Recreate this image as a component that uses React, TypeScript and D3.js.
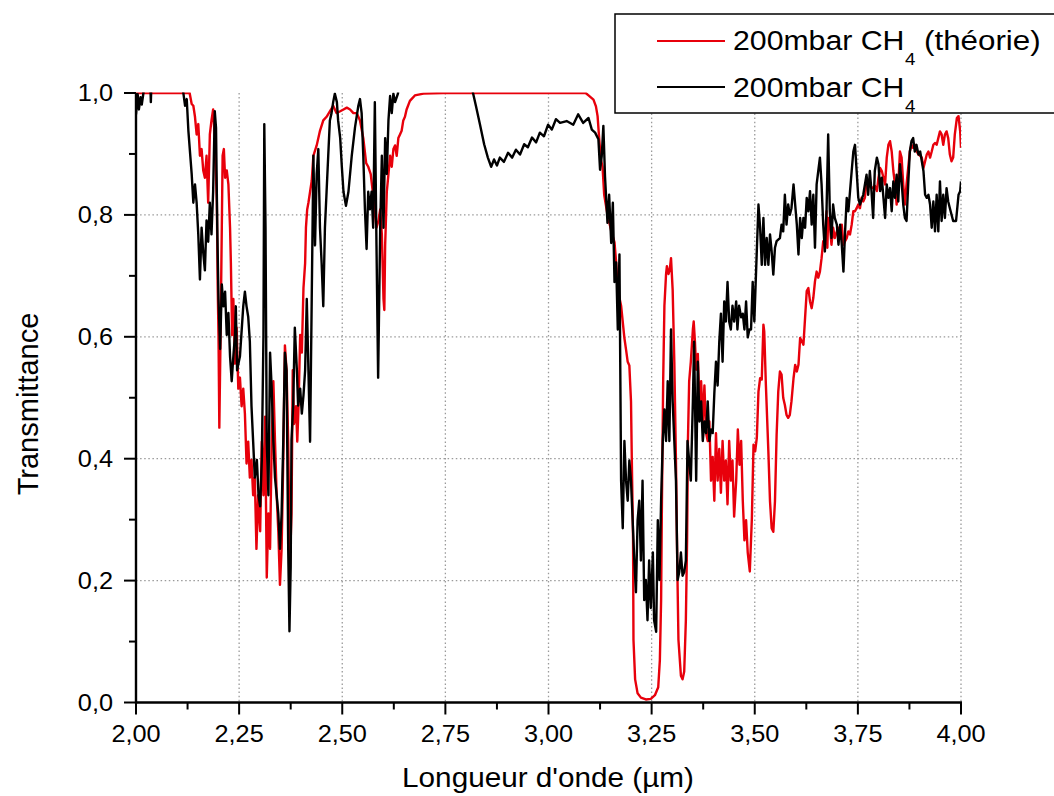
import React from 'react';
import * as d3 from 'd3';

type Pt = [number, number];

// x ticks (µm) and y ticks (transmittance)
const xMajorTicks = [2.0, 2.25, 2.5, 2.75, 3.0, 3.25, 3.5, 3.75, 4.0];
const xMinorTicks = [2.125, 2.375, 2.625, 2.875, 3.125, 3.375, 3.625, 3.875];
const yMajorTicks = [0.0, 0.2, 0.4, 0.6, 0.8, 1.0];
const yMinorTicks = [0.1, 0.3, 0.5, 0.7, 0.9];
const xGridTicks = [2.25, 2.5, 2.75, 3.0, 3.25, 3.5, 3.75, 4.0];
const yGridTicks = [0.2, 0.4, 0.6, 0.8];

const xTitle = "Longueur d'onde (µm)";
const yTitle = 'Transmittance';
const legendTheory = '200mbar CH';
const legendExp = '200mbar CH';

// Experimental spectrum (black), band 1 : 2.00 – 2.64 µm
const expBand1: Pt[] = [
  [2.000, 0.965], [2.004, 0.998], [2.007, 0.973], [2.011, 0.993], [2.014, 0.981], [2.018, 1.0], [2.022, 1.03],
  [2.034, 1.03], [2.036, 0.985], [2.038, 1.03], [2.108, 1.03], [2.115, 0.999], [2.119, 0.979], [2.123, 0.990],
  [2.127, 0.938], [2.135, 0.867], [2.139, 0.820], [2.143, 0.850], [2.147, 0.820], [2.151, 0.768], [2.155, 0.694],
  [2.159, 0.779], [2.163, 0.738], [2.167, 0.709], [2.171, 0.791], [2.175, 0.756], [2.179, 0.820], [2.183, 0.768],
  [2.187, 0.838], [2.191, 0.970], [2.194, 0.943], [2.197, 0.779], [2.200, 0.662], [2.204, 0.580], [2.208, 0.686],
  [2.212, 0.650], [2.216, 0.674], [2.220, 0.603], [2.224, 0.639], [2.228, 0.568], [2.232, 0.527], [2.236, 0.568],
  [2.240, 0.603], [2.242, 0.650], [2.245, 0.545], [2.252, 0.568], [2.260, 0.650], [2.264, 0.674], [2.268, 0.650],
  [2.272, 0.633], [2.276, 0.592], [2.280, 0.486], [2.284, 0.428], [2.288, 0.369], [2.293, 0.398], [2.297, 0.340],
  [2.301, 0.322], [2.305, 0.398], [2.309, 0.603], [2.311, 0.949], [2.314, 0.779], [2.317, 0.428], [2.321, 0.340],
  [2.325, 0.574], [2.329, 0.515], [2.333, 0.428], [2.337, 0.369], [2.341, 0.340], [2.345, 0.310], [2.349, 0.252],
  [2.353, 0.310], [2.357, 0.428], [2.361, 0.574], [2.365, 0.545], [2.369, 0.252], [2.372, 0.117], [2.375, 0.222],
  [2.377, 0.431], [2.381, 0.487], [2.385, 0.615], [2.390, 0.545], [2.393, 0.487], [2.398, 0.515], [2.402, 0.474],
  [2.406, 0.504], [2.410, 0.545], [2.414, 0.662], [2.418, 0.545], [2.422, 0.428], [2.426, 0.662], [2.430, 0.897],
  [2.434, 0.750], [2.438, 0.867], [2.442, 0.908], [2.446, 0.779], [2.450, 0.721], [2.454, 0.650], [2.458, 0.779],
  [2.462, 0.838], [2.466, 0.897], [2.470, 0.955], [2.474, 0.967], [2.478, 0.985], [2.482, 0.999], [2.487, 0.985],
  [2.490, 0.955], [2.495, 0.926], [2.499, 0.879], [2.503, 0.838], [2.509, 0.815], [2.515, 0.838], [2.523, 0.897],
  [2.531, 0.944], [2.539, 0.979], [2.543, 0.990], [2.547, 0.967], [2.551, 0.897], [2.555, 0.809], [2.559, 0.744],
  [2.563, 0.838], [2.567, 0.809], [2.571, 0.838], [2.575, 0.779], [2.579, 0.985], [2.583, 0.750], [2.587, 0.533],
  [2.592, 0.779], [2.596, 0.897], [2.600, 0.779], [2.604, 0.926], [2.608, 0.867], [2.612, 0.955], [2.616, 0.995],
  [2.620, 0.967], [2.624, 0.999], [2.628, 0.985], [2.635, 0.999], [2.640, 1.03],
];

// Experimental spectrum (black), band 2 : 2.70 – 3.51 µm
const expBand2: Pt[] = [
  [2.700, 1.03], [2.810, 1.03], [2.817, 1.0], [2.824, 0.979], [2.834, 0.948], [2.844, 0.916], [2.853, 0.894],
  [2.861, 0.879], [2.868, 0.891], [2.875, 0.881], [2.882, 0.894], [2.892, 0.887], [2.902, 0.902], [2.912, 0.894],
  [2.921, 0.907], [2.931, 0.899], [2.941, 0.916], [2.950, 0.911], [2.960, 0.927], [2.970, 0.919], [2.979, 0.935],
  [2.989, 0.929], [2.999, 0.948], [3.008, 0.940], [3.018, 0.957], [3.028, 0.951], [3.044, 0.954], [3.060, 0.948],
  [3.072, 0.965], [3.084, 0.951], [3.097, 0.959], [3.105, 0.940], [3.113, 0.935], [3.121, 0.924], [3.125, 0.874],
  [3.129, 0.896], [3.133, 0.946], [3.137, 0.863], [3.143, 0.787], [3.147, 0.833], [3.152, 0.754], [3.156, 0.820],
  [3.160, 0.690], [3.164, 0.722], [3.168, 0.612], [3.172, 0.735], [3.176, 0.364], [3.180, 0.286], [3.184, 0.429],
  [3.188, 0.364], [3.192, 0.331], [3.196, 0.397], [3.200, 0.364], [3.204, 0.299], [3.208, 0.233], [3.212, 0.181],
  [3.216, 0.299], [3.220, 0.331], [3.224, 0.233], [3.228, 0.364], [3.232, 0.168], [3.236, 0.201], [3.240, 0.135],
  [3.244, 0.233], [3.248, 0.155], [3.253, 0.246], [3.256, 0.135], [3.261, 0.116], [3.265, 0.299], [3.269, 0.201],
  [3.273, 0.331], [3.277, 0.429], [3.281, 0.481], [3.285, 0.429], [3.289, 0.527], [3.293, 0.429], [3.297, 0.612],
  [3.301, 0.494], [3.305, 0.429], [3.309, 0.364], [3.313, 0.201], [3.317, 0.214], [3.321, 0.246], [3.325, 0.208],
  [3.329, 0.214], [3.333, 0.233], [3.337, 0.429], [3.341, 0.397], [3.345, 0.364], [3.350, 0.494], [3.353, 0.592],
  [3.358, 0.364], [3.362, 0.559], [3.366, 0.461], [3.370, 0.494], [3.374, 0.429], [3.378, 0.461], [3.382, 0.442],
  [3.386, 0.494], [3.390, 0.429], [3.394, 0.448], [3.398, 0.442], [3.402, 0.507], [3.406, 0.559], [3.410, 0.520],
  [3.414, 0.592], [3.418, 0.638], [3.422, 0.559], [3.426, 0.658], [3.430, 0.625], [3.434, 0.690], [3.438, 0.625],
  [3.442, 0.612], [3.446, 0.651], [3.450, 0.625], [3.455, 0.658], [3.458, 0.612], [3.462, 0.651], [3.467, 0.632],
  [3.471, 0.638], [3.475, 0.612], [3.479, 0.658], [3.483, 0.599], [3.487, 0.612], [3.491, 0.612], [3.495, 0.690],
  [3.499, 0.625], [3.503, 0.703],
];

// Experimental spectrum (black), band 3 : 3.51 – 4.00 µm
const expBand3: Pt[] = [
  [3.509, 0.817], [3.513, 0.779], [3.517, 0.718], [3.521, 0.795], [3.525, 0.718], [3.529, 0.762], [3.533, 0.718],
  [3.537, 0.768], [3.541, 0.740], [3.545, 0.702], [3.549, 0.746], [3.553, 0.757], [3.561, 0.762], [3.565, 0.784],
  [3.569, 0.773], [3.573, 0.833], [3.577, 0.784], [3.581, 0.817], [3.585, 0.800], [3.589, 0.811], [3.594, 0.850],
  [3.598, 0.817], [3.602, 0.784], [3.606, 0.735], [3.610, 0.795], [3.614, 0.762], [3.618, 0.795], [3.622, 0.779],
  [3.626, 0.828], [3.630, 0.806], [3.634, 0.839], [3.638, 0.784], [3.642, 0.833], [3.646, 0.746], [3.650, 0.850],
  [3.654, 0.872], [3.658, 0.894], [3.662, 0.850], [3.666, 0.784], [3.670, 0.740], [3.674, 0.806], [3.678, 0.932],
  [3.682, 0.806], [3.686, 0.762], [3.690, 0.817], [3.694, 0.795], [3.699, 0.784], [3.703, 0.751], [3.707, 0.784],
  [3.711, 0.751], [3.715, 0.707], [3.719, 0.773], [3.723, 0.828], [3.727, 0.806], [3.731, 0.839], [3.735, 0.872],
  [3.739, 0.904], [3.743, 0.915], [3.747, 0.872], [3.751, 0.828], [3.755, 0.817], [3.763, 0.833], [3.771, 0.866],
  [3.775, 0.833], [3.779, 0.872], [3.783, 0.839], [3.787, 0.795], [3.791, 0.872], [3.796, 0.894], [3.800, 0.883],
  [3.804, 0.839], [3.808, 0.861], [3.812, 0.828], [3.816, 0.795], [3.820, 0.850], [3.824, 0.828], [3.828, 0.844],
  [3.832, 0.806], [3.836, 0.855], [3.840, 0.828], [3.844, 0.866], [3.848, 0.822], [3.852, 0.883], [3.856, 0.855],
  [3.860, 0.817], [3.864, 0.795], [3.868, 0.790], [3.872, 0.850], [3.876, 0.904], [3.880, 0.921], [3.884, 0.926],
  [3.888, 0.904], [3.892, 0.915], [3.897, 0.899], [3.901, 0.904], [3.905, 0.888], [3.909, 0.872], [3.913, 0.833],
  [3.917, 0.828], [3.921, 0.833], [3.925, 0.817], [3.929, 0.779], [3.933, 0.822], [3.937, 0.773], [3.941, 0.833],
  [3.945, 0.773], [3.949, 0.855], [3.953, 0.790], [3.957, 0.833], [3.961, 0.795], [3.965, 0.844], [3.969, 0.822],
  [3.973, 0.811], [3.981, 0.790], [3.988, 0.790], [3.994, 0.833], [3.998, 0.839], [4.000, 0.855],
];

// Theoretical spectrum (red), band 1 : 2.00 – 3.09 µm
const theoryBand1: Pt[] = [
  [2.000, 1.0], [2.130, 1.0], [2.135, 0.982], [2.139, 0.979], [2.143, 0.961], [2.147, 0.932], [2.151, 0.949],
  [2.155, 0.897], [2.159, 0.908], [2.163, 0.873], [2.167, 0.861], [2.171, 0.897], [2.175, 0.820], [2.179, 0.932],
  [2.183, 0.955], [2.187, 0.973], [2.191, 0.926], [2.196, 0.820], [2.198, 0.686], [2.200, 0.603], [2.202, 0.451],
  [2.205, 0.603], [2.208, 0.779], [2.210, 0.897], [2.213, 0.908], [2.216, 0.861], [2.220, 0.873], [2.224, 0.850],
  [2.228, 0.779], [2.230, 0.721], [2.233, 0.603], [2.236, 0.662], [2.240, 0.556], [2.244, 0.615], [2.248, 0.515],
  [2.252, 0.533], [2.256, 0.486], [2.260, 0.515], [2.264, 0.474], [2.268, 0.392], [2.272, 0.428], [2.276, 0.369],
  [2.280, 0.398], [2.284, 0.340], [2.288, 0.369], [2.292, 0.252], [2.296, 0.340], [2.301, 0.281], [2.305, 0.428],
  [2.309, 0.340], [2.313, 0.469], [2.317, 0.205], [2.321, 0.310], [2.325, 0.252], [2.329, 0.428], [2.333, 0.527],
  [2.337, 0.428], [2.341, 0.340], [2.345, 0.281], [2.349, 0.193], [2.353, 0.252], [2.357, 0.398], [2.361, 0.586],
  [2.365, 0.545], [2.369, 0.428], [2.373, 0.222], [2.377, 0.310], [2.380, 0.545], [2.383, 0.457], [2.388, 0.486],
  [2.391, 0.428], [2.394, 0.486], [2.398, 0.603], [2.402, 0.574], [2.406, 0.680], [2.410, 0.721], [2.412, 0.779],
  [2.415, 0.809], [2.418, 0.820], [2.422, 0.838], [2.426, 0.856], [2.430, 0.897], [2.438, 0.914], [2.446, 0.938],
  [2.454, 0.955], [2.462, 0.961], [2.470, 0.970], [2.478, 0.979], [2.486, 0.967], [2.495, 0.970], [2.503, 0.973],
  [2.511, 0.976], [2.519, 0.973], [2.527, 0.967], [2.535, 0.967], [2.543, 0.955], [2.551, 0.926], [2.558, 0.885],
  [2.563, 0.879], [2.569, 0.867], [2.574, 0.838], [2.579, 0.803], [2.583, 0.779], [2.588, 0.791], [2.592, 0.809],
  [2.596, 0.768], [2.600, 0.662], [2.602, 0.644], [2.604, 0.750], [2.608, 0.838], [2.612, 0.867], [2.616, 0.897],
  [2.620, 0.879], [2.624, 0.908], [2.628, 0.914], [2.632, 0.897], [2.636, 0.926], [2.640, 0.932], [2.644, 0.938],
  [2.648, 0.955], [2.652, 0.961], [2.656, 0.973], [2.664, 0.987], [2.676, 0.996], [2.697, 0.999], [2.745, 1.0],
  [3.090, 1.0],
];

// Theoretical spectrum (red), band 2 : 3.09 – 3.49 µm
const theoryBand2: Pt[] = [
  [3.097, 0.996], [3.109, 0.989], [3.115, 0.978], [3.119, 0.962], [3.123, 0.924], [3.127, 0.891], [3.131, 0.879],
  [3.135, 0.833], [3.143, 0.800], [3.152, 0.774], [3.160, 0.755], [3.164, 0.722], [3.168, 0.677], [3.176, 0.651],
  [3.184, 0.598], [3.188, 0.579], [3.192, 0.559], [3.196, 0.553], [3.200, 0.494], [3.202, 0.397], [3.205, 0.266],
  [3.206, 0.103], [3.210, 0.038], [3.216, 0.015], [3.224, 0.008], [3.236, 0.005], [3.248, 0.006], [3.258, 0.012],
  [3.266, 0.025], [3.270, 0.070], [3.273, 0.168], [3.275, 0.331], [3.278, 0.527], [3.281, 0.651], [3.285, 0.703],
  [3.287, 0.716], [3.291, 0.703], [3.294, 0.710], [3.297, 0.729], [3.301, 0.677], [3.305, 0.559], [3.309, 0.397],
  [3.312, 0.234], [3.315, 0.103], [3.321, 0.044], [3.325, 0.038], [3.329, 0.051], [3.333, 0.135], [3.336, 0.266],
  [3.338, 0.429], [3.341, 0.527], [3.345, 0.559], [3.350, 0.612], [3.352, 0.625], [3.355, 0.592], [3.358, 0.546],
  [3.362, 0.572], [3.366, 0.481], [3.370, 0.527], [3.374, 0.461], [3.378, 0.520], [3.382, 0.442], [3.386, 0.429],
  [3.390, 0.461], [3.394, 0.364], [3.398, 0.403], [3.402, 0.331], [3.406, 0.442], [3.410, 0.364], [3.414, 0.416],
  [3.418, 0.344], [3.422, 0.429], [3.426, 0.364], [3.430, 0.397], [3.434, 0.325], [3.438, 0.429], [3.442, 0.364],
  [3.446, 0.397], [3.450, 0.305], [3.455, 0.364], [3.459, 0.448], [3.463, 0.390], [3.467, 0.429], [3.471, 0.331],
  [3.475, 0.266], [3.479, 0.299], [3.483, 0.246], [3.488, 0.215],
];

// Theoretical spectrum (red), band 3 : 3.49 – 4.00 µm
const theoryBand3: Pt[] = [
  [3.493, 0.302], [3.497, 0.423], [3.501, 0.412], [3.505, 0.434], [3.509, 0.510], [3.513, 0.532], [3.517, 0.530],
  [3.521, 0.620], [3.523, 0.609], [3.527, 0.521], [3.533, 0.412], [3.537, 0.330], [3.541, 0.286], [3.545, 0.280],
  [3.549, 0.330], [3.553, 0.439], [3.557, 0.510], [3.561, 0.543], [3.565, 0.538], [3.569, 0.500], [3.573, 0.488],
  [3.577, 0.472], [3.581, 0.467], [3.585, 0.472], [3.589, 0.494], [3.594, 0.532], [3.598, 0.554], [3.602, 0.543],
  [3.606, 0.554], [3.610, 0.598], [3.614, 0.593], [3.618, 0.587], [3.622, 0.631], [3.626, 0.675], [3.630, 0.680],
  [3.634, 0.658], [3.638, 0.647], [3.642, 0.664], [3.646, 0.691], [3.650, 0.707], [3.654, 0.697], [3.658, 0.707],
  [3.662, 0.729], [3.666, 0.757], [3.670, 0.751], [3.674, 0.806], [3.676, 0.746], [3.678, 0.795], [3.682, 0.785],
  [3.686, 0.751], [3.690, 0.779], [3.694, 0.762], [3.699, 0.773], [3.703, 0.779], [3.707, 0.762], [3.711, 0.784],
  [3.715, 0.751], [3.719, 0.757], [3.723, 0.762], [3.727, 0.773], [3.731, 0.768], [3.735, 0.784], [3.739, 0.806],
  [3.743, 0.806], [3.747, 0.811], [3.751, 0.817], [3.755, 0.811], [3.759, 0.828], [3.763, 0.822], [3.767, 0.828],
  [3.771, 0.855], [3.775, 0.845], [3.779, 0.850], [3.783, 0.845], [3.787, 0.844], [3.791, 0.848], [3.796, 0.839],
  [3.800, 0.861], [3.804, 0.877], [3.808, 0.872], [3.812, 0.861], [3.816, 0.850], [3.820, 0.894], [3.824, 0.915],
  [3.828, 0.921], [3.832, 0.904], [3.836, 0.872], [3.840, 0.850], [3.844, 0.817], [3.848, 0.850], [3.852, 0.904],
  [3.856, 0.894], [3.860, 0.850], [3.864, 0.817], [3.868, 0.850], [3.872, 0.877], [3.876, 0.904], [3.880, 0.915],
  [3.884, 0.910], [3.888, 0.915], [3.892, 0.905], [3.897, 0.899], [3.901, 0.897], [3.905, 0.894], [3.909, 0.877],
  [3.913, 0.888], [3.917, 0.899], [3.921, 0.904], [3.925, 0.894], [3.929, 0.904], [3.933, 0.915], [3.937, 0.918],
  [3.941, 0.915], [3.945, 0.926], [3.949, 0.937], [3.953, 0.932], [3.957, 0.915], [3.961, 0.932], [3.965, 0.937],
  [3.969, 0.926], [3.973, 0.899], [3.977, 0.888], [3.981, 0.894], [3.985, 0.932], [3.990, 0.959], [3.994, 0.962],
  [3.998, 0.937], [4.000, 0.910],
];

const theory: Pt[] = [...theoryBand1, ...theoryBand2, ...theoryBand3];
const experiment: Pt[] = [...expBand1, ...expBand2, ...expBand3];

const FONT = "Arial, 'Liberation Sans', Helvetica, sans-serif";
const SX = 1.1; // horizontal stretch of the original picture's text

export default function App() {
  const left = 136, right = 961, top = 93, bottom = 702.5;
  const x = d3.scaleLinear().domain([2, 4]).range([left, right]);
  const y = d3.scaleLinear().domain([0, 1]).range([bottom, top]);
  const line = d3.line<Pt>().x((d) => x(d[0])).y((d) => y(d[1]));
  const fx = (v: number) => d3.format('.2f')(v).replace('.', ',');
  const fy = (v: number) => d3.format('.1f')(v).replace('.', ',');

  return (
    <svg width={1054} height={796} style={{ position: 'absolute', left: 0, top: 0, background: '#fff' }}
      fontFamily={FONT}>
      <defs>
        <clipPath id="plotClip">
          <rect x={left} y={top - 0.6} width={right - left} height={bottom - top + 0.6} />
        </clipPath>
      </defs>
      <rect x={0} y={0} width={1054} height={796} fill="#fff" />

      {/* grid */}
      <g stroke="#9a9a9a" strokeWidth={1.3} strokeDasharray="1.5 2.6">
        {xGridTicks.map((t) => (
          <line key={'gx' + t} x1={x(t)} x2={x(t)} y1={top} y2={bottom} />
        ))}
        {yGridTicks.map((t) => (
          <line key={'gy' + t} x1={left} x2={right} y1={y(t)} y2={y(t)} />
        ))}
      </g>

      {/* data */}
      <g clipPath="url(#plotClip)" fill="none" strokeLinejoin="round">
        <path d={line(theory) || ''} stroke="#e8000b" strokeWidth={2.4} />
        <path d={line(experiment) || ''} stroke="#000" strokeWidth={2.4} />
      </g>

      {/* axes */}
      <g stroke="#000" strokeWidth={2.4}>
        <line x1={left} x2={right + 1} y1={bottom} y2={bottom} />
        <line x1={left} x2={left} y1={top} y2={bottom + 1} />
        {xMajorTicks.map((t) => (
          <line key={'xm' + t} x1={x(t)} x2={x(t)} y1={bottom} y2={bottom + 12} strokeWidth={2} />
        ))}
        {xMinorTicks.map((t) => (
          <line key={'xn' + t} x1={x(t)} x2={x(t)} y1={bottom} y2={bottom + 7} strokeWidth={2} />
        ))}
        {yMajorTicks.map((t) => (
          <line key={'ym' + t} x1={left - 12} x2={left} y1={y(t)} y2={y(t)} strokeWidth={2} />
        ))}
        {yMinorTicks.map((t) => (
          <line key={'yn' + t} x1={left - 7} x2={left} y1={y(t)} y2={y(t)} strokeWidth={2} />
        ))}
      </g>

      {/* tick labels */}
      <g fontSize={23} fill="#000">
        {xMajorTicks.map((t) => (
          <text key={'xl' + t} transform={`translate(${x(t)},742) scale(${SX},1)`} textAnchor="middle">
            {fx(t)}
          </text>
        ))}
        {yMajorTicks.map((t) => (
          <text key={'yl' + t} transform={`translate(113,${y(t) + 8}) scale(${SX},1)`} textAnchor="end">
            {fy(t)}
          </text>
        ))}
      </g>

      {/* axis titles */}
      <text transform={`translate(548,787) scale(${SX},1)`} textAnchor="middle" fontSize={27}>
        {xTitle}
      </text>
      <text transform="translate(38,404) rotate(-90)" textAnchor="middle" fontSize={29}>
        {yTitle}
      </text>

      {/* legend */}
      <rect x={615} y={14} width={460} height={99} fill="#fff" stroke="#000" strokeWidth={1.5} />
      <line x1={657} x2={725} y1={41} y2={41} stroke="#e8000b" strokeWidth={2.2} />
      <line x1={657} x2={725} y1={87} y2={87} stroke="#000" strokeWidth={2.2} />
      <text transform={`translate(733,50) scale(${SX},1)`} fontSize={27.5}>{legendTheory}</text>
      <text transform={`translate(905,65) scale(${SX},1)`} fontSize={17}>4</text>
      <text transform={`translate(924,50) scale(${SX},1)`} fontSize={28.5}>(théorie)</text>
      <text transform={`translate(733,97) scale(${SX},1)`} fontSize={27.5}>{legendExp}</text>
      <text transform={`translate(905,112) scale(${SX},1)`} fontSize={17}>4</text>
    </svg>
  );
}
